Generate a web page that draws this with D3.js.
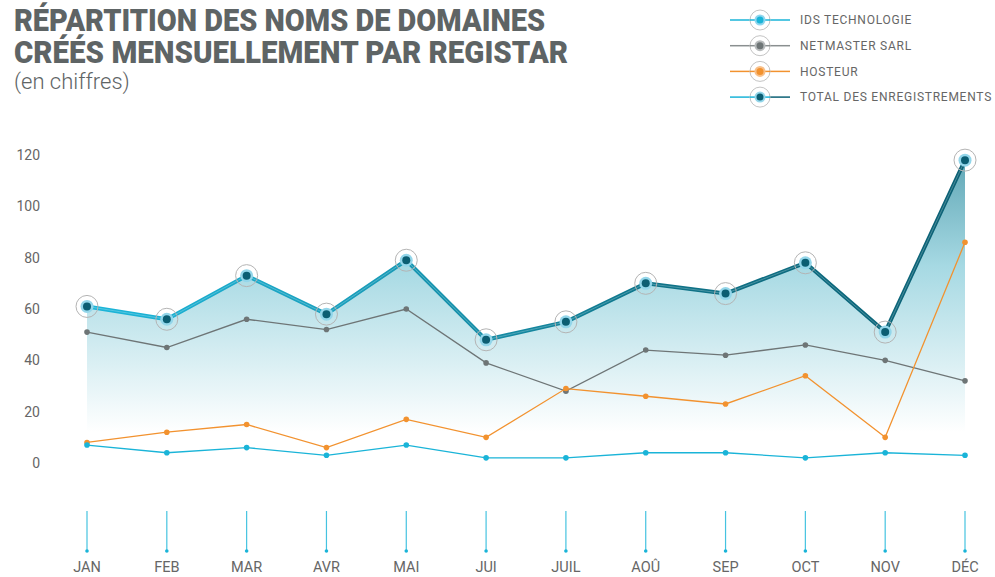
<!DOCTYPE html>
<html>
<head>
<meta charset="utf-8">
<script src="https://cdn.jsdelivr.net/npm/d3@7"></script>
<style>
  body { margin: 0; background: #fff; }
  svg { display: block; font-family: Roboto, 'Open Sans', sans-serif; }
</style>
</head>
<body>
<div id="chart"></div>
<script>
const months = ['JAN', 'FEB', 'MAR', 'AVR', 'MAI', 'JUI', 'JUIL', 'AOÛ', 'SEP', 'OCT', 'NOV', 'DÉC']
const idsValues = [7, 4, 6, 3, 7, 2, 2, 4, 4, 2, 4, 3]
const netmasterValues = [51, 45, 56, 52, 60, 39, 28, 44, 42, 46, 40, 32]
const hosteurValues = [8, 12, 15, 6, 17, 10, 29, 26, 23, 34, 10, 86]
const totalValues = [61, 56, 73, 58, 79, 48, 55, 70, 66, 78, 51, 118]
const yTicks = [0, 20, 40, 60, 80, 100, 120]
const legendLabels = ['IDS TECHNOLOGIE', 'NETMASTER SARL', 'HOSTEUR', 'TOTAL DES ENREGISTREMENTS']

const width = 995
const height = 577

const svg = d3
  .select('#chart')
  .append('svg')
  .attr('width', width)
  .attr('height', height)

const defs = svg.append('defs')

// scales
const x = d3.scalePoint().domain(months).range([87, 965])
const y = d3.scaleLinear().domain([0, 120]).range([463, 155])

// area gradient (vertical)
const areaGrad = defs
  .append('linearGradient')
  .attr('id', 'areaGrad')
  .attr('gradientUnits', 'userSpaceOnUse')
  .attr('x1', 0)
  .attr('x2', 0)
  .attr('y1', y(120))
  .attr('y2', y(12))
areaGrad.append('stop').attr('offset', '0%').attr('stop-color', '#5ea5b4')
areaGrad.append('stop').attr('offset', '40%').attr('stop-color', '#a6d9e3')
areaGrad.append('stop').attr('offset', '100%').attr('stop-color', '#ffffff')

// total line gradient (horizontal)
const lineGrad = defs
  .append('linearGradient')
  .attr('id', 'lineGrad')
  .attr('gradientUnits', 'userSpaceOnUse')
  .attr('x1', x('JAN'))
  .attr('x2', x('DÉC'))
  .attr('y1', 0)
  .attr('y2', 0)
lineGrad.append('stop').attr('offset', '0%').attr('stop-color', '#1bb6da')
lineGrad.append('stop').attr('offset', '35%').attr('stop-color', '#1a9ab6')
lineGrad.append('stop').attr('offset', '65%').attr('stop-color', '#0f7489')
lineGrad.append('stop').attr('offset', '100%').attr('stop-color', '#0c6175')

// title (scaled vertically so the two lines sit tight like the original)
const titleColor = '#5e6465'
const title = svg.append('g').attr('transform', 'translate(14,0) scale(1,1.12)')
title
  .append('text')
  .attr('x', 0)
  .attr('y', 27.7)
  .attr('textLength', 531)
  .attr('lengthAdjust', 'spacingAndGlyphs')
  .style('font-size', '28px')
  .style('font-weight', 900)
  .style('fill', titleColor)
  .text('RÉPARTITION DES NOMS DE DOMAINES')
title
  .append('text')
  .attr('x', 0)
  .attr('y', 56.3)
  .attr('textLength', 554)
  .attr('lengthAdjust', 'spacingAndGlyphs')
  .style('font-size', '28px')
  .style('font-weight', 900)
  .style('fill', titleColor)
  .text('CRÉÉS MENSUELLEMENT PAR REGISTAR')
svg
  .append('text')
  .attr('x', 14)
  .attr('y', 89)
  .style('font-size', '22px')
  .style('font-weight', 300)
  .style('fill', titleColor)
  .text('(en chiffres)')

// y axis labels
svg
  .append('g')
  .selectAll('text')
  .data(yTicks)
  .join('text')
  .attr('x', 40)
  .attr('y', (d) => y(d))
  .attr('dy', '0.35em')
  .attr('text-anchor', 'end')
  .style('font-size', '14px')
  .style('fill', '#666')
  .text((d) => d)

// area under total
const area = d3
  .area()
  .x((d, i) => x(months[i]))
  .y0(y(0))
  .y1((d) => y(d))
svg.append('path').datum(totalValues).attr('d', area).attr('fill', 'url(#areaGrad)')

// small series
const line = d3
  .line()
  .x((d, i) => x(months[i]))
  .y((d) => y(d))

const smallSeries = [
  { values: netmasterValues, color: '#6e7576' },
  { values: hosteurValues, color: '#f2922f' },
  { values: idsValues, color: '#1ab4d8' },
]
smallSeries.forEach((s) => {
  svg
    .append('path')
    .datum(s.values)
    .attr('d', line)
    .attr('fill', 'none')
    .attr('stroke', s.color)
    .attr('stroke-width', 1.3)
  svg
    .append('g')
    .selectAll('circle')
    .data(s.values)
    .join('circle')
    .attr('cx', (d, i) => x(months[i]))
    .attr('cy', (d) => y(d))
    .attr('r', 2.8)
    .attr('fill', s.color)
})

// total line
svg
  .append('path')
  .datum(totalValues)
  .attr('d', line)
  .attr('fill', 'none')
  .attr('stroke', 'url(#lineGrad)')
  .attr('stroke-width', 4)
  .attr('stroke-linejoin', 'round')
svg
  .append('path')
  .datum(totalValues)
  .attr('d', line)
  .attr('fill', 'none')
  .attr('stroke', '#ffffff')
  .attr('stroke-opacity', 0.25)
  .attr('stroke-width', 1)

function bigMarker(g, cx, cy, inner) {
  g.append('circle').attr('cx', cx).attr('cy', cy).attr('r', 11).attr('fill', 'none').attr('stroke', '#b4b4b4').attr('stroke-width', 1)
  g.append('circle').attr('cx', cx).attr('cy', cy).attr('r', 6.5).attr('fill', '#93d6ea')
  g.append('circle').attr('cx', cx).attr('cy', cy).attr('r', 4).attr('fill', inner)
}

const markers = svg.append('g')
totalValues.forEach((d, i) => bigMarker(markers, x(months[i]), y(d), '#0b5e73'))

// bottom month ticks
const ticks = svg.append('g')
months.forEach((m) => {
  ticks
    .append('line')
    .attr('x1', x(m))
    .attr('x2', x(m))
    .attr('y1', 511)
    .attr('y2', 551)
    .attr('stroke', '#45c3e0')
    .attr('stroke-width', 1.2)
  ticks.append('circle').attr('cx', x(m)).attr('cy', 551).attr('r', 1.8).attr('fill', '#1ab4d8')
  ticks
    .append('text')
    .attr('x', x(m))
    .attr('y', 572)
    .attr('text-anchor', 'middle')
    .style('font-size', '14.5px')
    .style('fill', '#666')
    .text(m)
})

// legend
const legendColors = [
  { line: '#1ab4d8', halo: '#8fd6ee', dot: '#1ab4d8', line2: '#1ab4d8' },
  { line: '#8a8f90', halo: '#b8bbbc', dot: '#6e7576', line2: '#8a8f90' },
  { line: '#f2922f', halo: '#f8c08a', dot: '#f2922f', line2: '#f2922f' },
  { line: '#1ab4d8', halo: '#93d6ea', dot: '#0b5e73', line2: '#0c6175' },
]
const legend = svg.append('g')
legendLabels.forEach((label, i) => {
  const ly = 20 + i * 25.7
  const c = legendColors[i]
  legend.append('line').attr('x1', 730).attr('x2', 760).attr('y1', ly).attr('y2', ly).attr('stroke', c.line).attr('stroke-width', 1.5)
  legend.append('line').attr('x1', 760).attr('x2', 790).attr('y1', ly).attr('y2', ly).attr('stroke', c.line2).attr('stroke-width', 1.5)
  legend.append('circle').attr('cx', 760).attr('cy', ly).attr('r', 10).attr('fill', '#fff').attr('stroke', '#c4c4c4').attr('stroke-width', 1)
  legend.append('line').attr('x1', 750).attr('x2', 770).attr('y1', ly).attr('y2', ly).attr('stroke', c.line).attr('stroke-width', 1.5)
  legend.append('circle').attr('cx', 760).attr('cy', ly).attr('r', 5.5).attr('fill', c.halo)
  legend.append('circle').attr('cx', 760).attr('cy', ly).attr('r', 3.5).attr('fill', c.dot)
  legend
    .append('text')
    .attr('x', 800)
    .attr('y', ly)
    .attr('dy', '0.35em')
    .style('font-size', '12px')
    .style('letter-spacing', '0.75px')
    .style('fill', '#666')
    .text(label)
})
</script>
</body>
</html>
